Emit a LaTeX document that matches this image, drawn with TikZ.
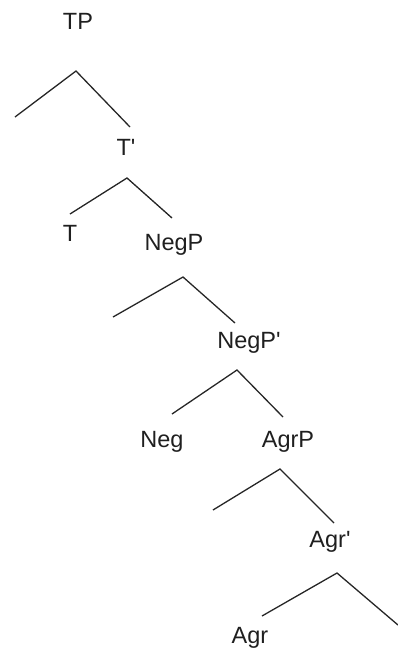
\documentclass[tikz,border=0pt]{standalone}
\usepackage{fontspec}
\setmainfont{Liberation Sans}
\begin{document}
\begin{tikzpicture}[x=1pt,y=-1pt,
  lbl/.style={anchor=base,inner sep=0pt,font=\fontsize{23.5}{26}\selectfont,text=black!88},
  branch/.style={draw=black!85,line width=1.3pt}]
\useasboundingbox (0,0) rectangle (398,651);
% labels
\node[lbl] (TP)    at (78,29)   {TP};
\node[lbl] (Tbar)  at (126,155) {T\textquotesingle};
\node[lbl] (T)     at (70,241)  {T};
\node[lbl] (NegP)  at (174,250) {NegP};
\node[lbl] (NegPb) at (249,348) {NegP\textquotesingle};
\node[lbl] (Neg)   at (162,447) {Neg};
\node[lbl] (AgrP)  at (288,447) {AgrP};
\node[lbl] (Agrb)  at (330,547) {Agr\textquotesingle};
\node[lbl] (Agr)   at (250,643) {Agr};
% branch points
\coordinate (a1) at (76,71);   \coordinate (l1) at (15,117);  \coordinate (r1) at (130,127);
\coordinate (a2) at (127,178); \coordinate (l2) at (70,214);  \coordinate (r2) at (172,218);
\coordinate (a3) at (183,277); \coordinate (l3) at (113,317); \coordinate (r3) at (235,323);
\coordinate (a4) at (237,370); \coordinate (l4) at (172,414); \coordinate (r4) at (283,417);
\coordinate (a5) at (280,469); \coordinate (l5) at (213,510); \coordinate (r5) at (334,523);
\coordinate (a6) at (337,573); \coordinate (l6) at (262,616); \coordinate (r6) at (398,625);
\foreach \i in {1,...,6}{
  \draw[branch] (l\i) -- (a\i) -- (r\i);
}
\end{tikzpicture}
\end{document}
